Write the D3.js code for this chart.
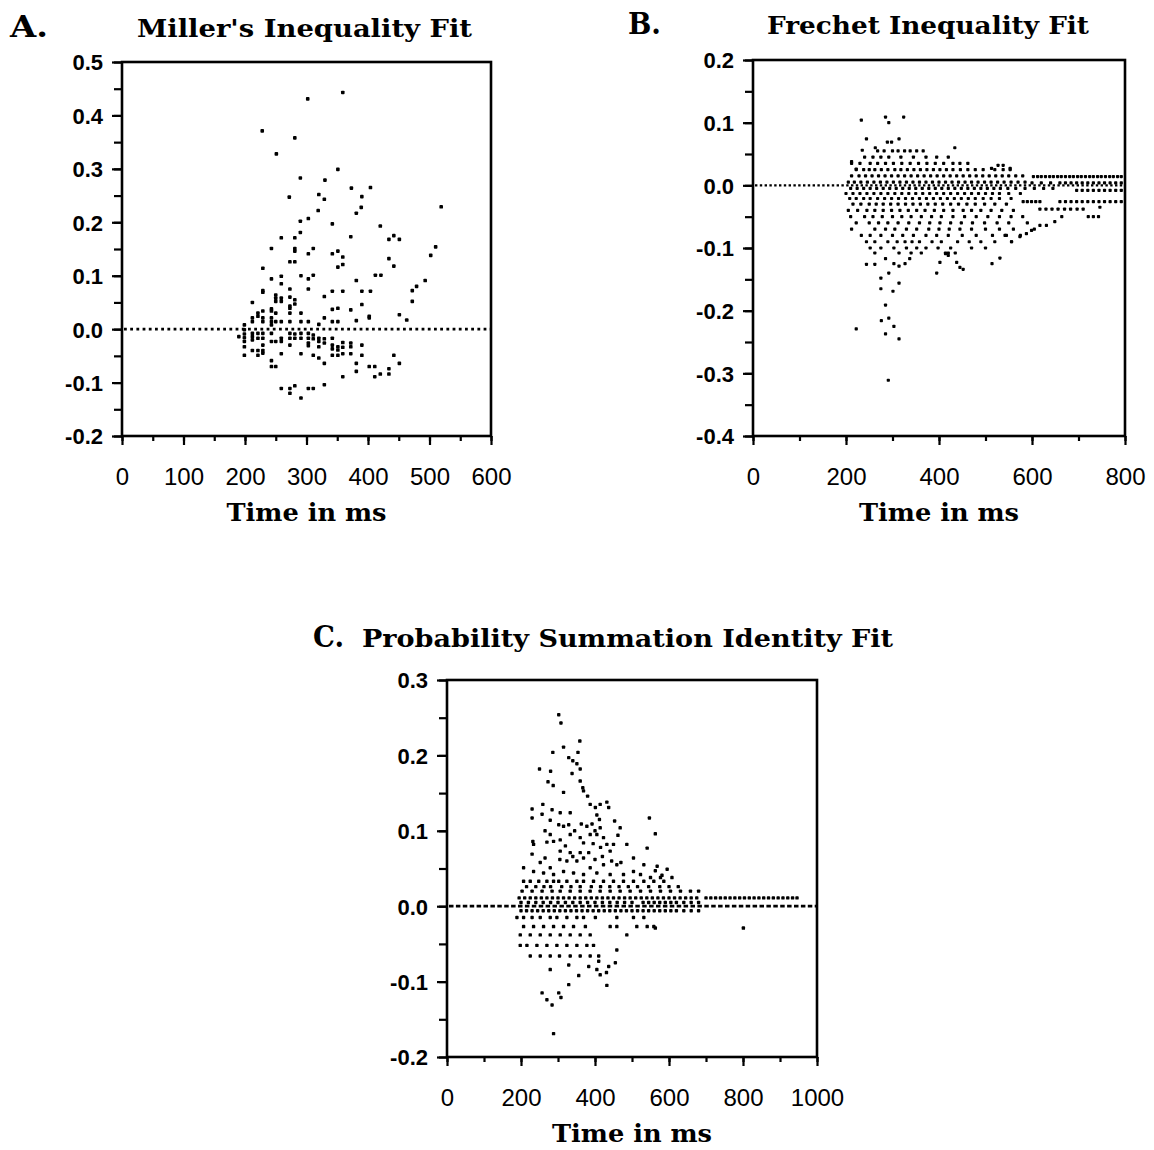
<!DOCTYPE html>
<html lang="en">
<head>
<meta charset="utf-8">
<title>Inequality fits</title>
<script src="https://cdn.jsdelivr.net/npm/d3@7"></script>
<style>
  body { margin: 0; background: #fff; }
</style>
</head>
<body>
<svg id="svg" width="1154" height="1150"></svg>
<script>

// ---- data: [time in ms, deviation] ----

// A. Miller's inequality
var millerPts = [
  [359,0.443],[302,0.431],[228,0.371],[281,0.358],[251,0.328],[351,0.299],[290,0.283],[330,0.279],[373,0.264],[404,0.265],
  [272,0.247],[320,0.252],[329,0.243],[390,0.248],[319,0.222],[389,0.228],[381,0.217],[519,0.229],[290,0.202],[303,0.207],
  [342,0.197],[420,0.193],[259,0.171],[281,0.171],[290,0.181],[372,0.173],[434,0.168],[442,0.175],[451,0.168],[243,0.151],
  [281,0.151],[281,0.146],[303,0.141],[311,0.151],[342,0.141],[351,0.146],[359,0.135],[510,0.154],[502,0.138],[273,0.126],
  [281,0.126],[351,0.116],[359,0.121],[434,0.132],[442,0.118],[229,0.114],[243,0.094],[259,0.099],[259,0.085],[291,0.1],
  [303,0.094],[311,0.101],[412,0.101],[421,0.101],[381,0.091],[493,0.091],[479,0.08],[472,0.072],[229,0.072],[229,0.069],
  [273,0.075],[303,0.075],[342,0.071],[329,0.061],[359,0.071],[390,0.071],[404,0.071],[390,0.046],[472,0.052],[212,0.05],
  [250,0.064],[250,0.058],[250,0.052],[259,0.058],[259,0.052],[273,0.06],[281,0.055],[281,0.047],[273,0.043],[273,0.039],
  [229,0.034],[243,0.038],[243,0.034],[221,0.03],[221,0.024],[212,0.021],[212,0.014],[229,0.021],[229,0.014],[243,0.021],
  [243,0.014],[243,0.008],[250,0.03],[250,0.014],[259,0.014],[273,0.03],[291,0.03],[273,0.014],[291,0.014],[303,0.014],
  [342,0.037],[351,0.039],[342,0.014],[351,0.014],[372,0.036],[381,0.016],[402,0.024],[402,0.021],[329,0.021],[320,0.009],
  [451,0.027],[463,0.017],[199,0.008],[199,-0.001],
  [190,-0.014],[199,-0.009],[199,-0.016],[212,-0.008],[212,-0.014],[212,-0.02],[221,-0.008],[221,-0.017],[229,-0.008],[229,-0.017],
  [229,-0.03],[243,-0.008],[243,-0.023],[250,-0.023],[259,-0.017],[259,-0.023],[273,-0.008],[273,-0.017],[273,-0.03],[281,-0.009],
  [281,-0.017],[291,-0.008],[291,-0.017],[303,-0.008],[303,-0.017],[303,-0.026],[303,-0.031],[311,-0.011],[311,-0.018],[320,-0.017],
  [320,-0.023],[320,-0.033],[329,-0.018],[329,-0.026],[342,-0.017],[342,-0.03],[342,-0.037],[351,-0.033],[351,-0.039],[359,-0.025],
  [359,-0.034],[372,-0.026],[372,-0.033],[390,-0.03],[199,-0.023],[199,-0.033],[212,-0.04],[221,-0.04],[229,-0.04],[199,-0.049],
  [221,-0.049],[229,-0.045],[259,-0.046],[291,-0.046],[311,-0.049],[320,-0.054],[329,-0.064],[342,-0.049],[351,-0.049],[359,-0.046],
  [372,-0.046],[390,-0.049],[381,-0.064],[442,-0.049],[451,-0.064],[243,-0.059],[243,-0.07],[250,-0.07],[381,-0.079],[402,-0.07],
  [411,-0.07],[411,-0.089],[420,-0.084],[434,-0.074],[434,-0.084],[359,-0.089],[259,-0.111],[273,-0.111],[281,-0.106],[273,-0.12],
  [291,-0.129],[303,-0.111],[311,-0.111],[329,-0.104]
];

// B. Frechet inequality: scattered points, then the dense rows as [value, times]
var frechetPts = [
  [233,0.104],[285,0.109],[292,0.1],[324,0.109],[244,0.074],[289,0.069],[298,0.069],[314,0.074],[235,0.056],[212,0.038],
  [263,0.06],[434,0.06],[222,0.026],
  [222,-0.229],[291,-0.311],[285,-0.237],[303,-0.225],[314,-0.245],[276,-0.216],[292,-0.212],[285,-0.191],[275,-0.165],
  [301,-0.169],[275,-0.148],[292,-0.14],[314,-0.156],[244,-0.126],[262,-0.126],[285,-0.117],[303,-0.125],[314,-0.129],
  [327,-0.125],[337,-0.117],[395,-0.14],[402,-0.123],[414,-0.109],[420,-0.112],[438,-0.123],[445,-0.131],[452,-0.134],
  [514,-0.125],[531,-0.116],
  [542,-0.08],[556,-0.09],[574,-0.082],[588,-0.077],[599,-0.072],[617,-0.064],[631,-0.064],[649,-0.058],[664,-0.05],
  [721,-0.05],[732,-0.05],[743,-0.05],[746,-0.035],[513,0.027],[527,0.032],[538,0.032],[553,0.027]
];
var frechetRows = [
  [0.055, [268,282,300,312,326,338,352,366]],
  [0.045, [240,258,275,292,318,345,372,395,420]],
  [0.035, [212,230,252,268,285,302,320,338,356,374,392,410,430,445,462]],
  [0.025, [222,238,250,262,276,290,305,318,332,346,360,374,388,402,416,430,446,462,478,495,520,538,553]],
  [0.015, [212,228,242,256,270,284,298,312,326,340,354,368,382,396,410,424,438,452,466,480,494,508,522,536,550,565,580]],
  [0.014, [603,612,620,629,638,646,655,663,672,681,689,698,706,715,724,732,741,749,758,767,775,784,792]],
  [0.005, [205,218,232,246,260,274,288,302,316,330,344,358,372,386,400,414,428,442,456,470,484,498,512,526,540,555,570,585]],
  [0.004, [600,620,640,660,672,684,696,708,720,732,744,756,768,780,792]],
  [-0.005, [210,224,238,252,266,280,294,308,322,336,350,364,378,392,406,420,434,448,462,476,490,504,518,532,548,565,585,605,625,645]],
  [-0.008, [696,708,720,732,744,756,768,780,792]],
  [-0.013, [200,215,230,245,260,275,290,305,320,335,350,365,380,395,410,425,440,455,470,485,500,515,530,550,575]],
  [-0.021, [208,222,238,252,268,283,298,313,328,343,358,373,388,403,418,433,448,463,478,495,512,530,555]],
  [-0.026, [581,590,599,608,617,660,672,684,696,708,720,732,744,756,768,780,792]],
  [-0.03, [215,232,250,265,280,296,312,328,344,360,376,392,408,425,442,460,478,498,520,545]],
  [-0.038, [617,630,643,656,670,683,697,710]],
  [-0.04, [205,225,245,262,280,298,316,334,352,370,390,410,430,452,470,490,512,535,560]],
  [-0.05, [210,240,258,278,300,320,340,362,384,405,430,455,480,505,530,555,580]],
  [-0.06, [222,250,270,290,312,335,358,380,402,425,448,472,498,525,550,590]],
  [-0.07, [212,262,285,305,330,352,378,400,422,445,470,500,530,560,605]],
  [-0.08, [233,252,275,300,322,345,372,395,420,450,480,515,545,575]],
  [-0.09, [244,262,290,310,327,342,358,385,405,440,465,490,520,556]],
  [-0.1, [252,275,303,330,352,372,398,425,470,500]],
  [-0.108, [262,314,340,362,414,420,435]]
];

// C. Probability summation identity
var summationPts = [
  [302,0.254],[308,0.243],[359,0.219],[315,0.211],[286,0.204],[354,0.204],[329,0.197],[340,0.193],[351,0.189],[360,0.182],
  [250,0.182],[280,0.179],[338,0.176],[273,0.165],[287,0.16],[315,0.151],[360,0.166],[367,0.157],[369,0.153],[380,0.146],
  [230,0.129],[259,0.135],[284,0.128],[306,0.124],[333,0.124],[230,0.117],[257,0.122],[279,0.114],[302,0.108],[315,0.106],
  [329,0.108],[387,0.135],[401,0.131],[414,0.135],[432,0.138],[437,0.131],[405,0.121],[412,0.115],[414,0.104],[363,0.109],
  [378,0.106],[392,0.109],[453,0.113],[468,0.104],[462,0.094],[486,0.082],[547,0.117],[563,0.096],[541,0.077],[232,0.086],
  [234,0.082],[230,0.069],[279,0.095],[288,0.086],[306,0.088],[333,0.095],[360,0.091],[369,0.084],[387,0.095],[405,0.095],
  [423,0.091],[432,0.082],[450,0.082],[441,0.073],[306,0.073],[333,0.071],[360,0.071],[383,0.071],[305,0.062],[324,0.06],
  [351,0.06],[369,0.064],[207,0.051],[252,0.058],[279,0.051],[234,0.046],[261,0.044],[288,0.042],
  [387,0.051],[423,0.055],[459,0.055],[504,0.064],[532,0.055],[568,0.053],[595,0.049],[563,0.047],[577,0.038],
  [315,0.046],[342,0.044],[369,0.042],[405,0.044],[441,0.042],[477,0.042],[504,0.046],[523,0.042],[550,0.038],[581,0.041],
  [608,0.038],[265,0.1],[345,0.1],[400,0.1],[270,0.085],[320,0.08],[395,0.083],[415,0.078],[265,0.064],[340,0.066],
  [400,0.062],[420,0.066],[445,0.06],[470,0.058],
  [288,-0.169],[257,-0.115],[270,-0.124],[284,-0.131],[302,-0.115],[308,-0.121],[329,-0.104],[432,-0.105],[279,-0.084],
  [329,-0.078],[356,-0.092],[383,-0.08],[405,-0.084],[414,-0.091],[431,-0.088],[410,-0.073],[437,-0.08],[459,-0.058],
  [455,-0.075],[801,-0.029],[563,-0.029]
];
var summationRows = [
  [0.033, [207,225,248,270,288,302,324,351,369,396,423,450,477,504,532,559,586]],
  [0.026, [215,240,262,280,310,335,360,390,415,440,465,490,515,545,575,600,625]],
  [0.02, [203,230,257,284,306,333,360,387,414,441,468,495,523,550,577,604,631,658,680]],
  [0.011, [195,210,225,240,255,270,285,300,315,330,345,360,375,390,405,420,435,450,465,480,495,510,525,540,555,570,585,600,615,
           630,645,660,675,700,713,726,739,752,765,778,791,804,817,830,843,856,869,882,895,908,921,934,946]],
  [0.005, [200,220,240,260,280,300,320,340,360,380,400,420,440,460,480,500,530,545,560,575,590,605,620,640,660,680]],
  [-0.006, [200,215,230,245,260,275,290,305,320,335,350,365,380,395,410,425,440,455,470,485,500,515,530,545,560,575,590,605,
            620,640,660,680]],
  [-0.015, [189,207,230,252,279,297,324,351,369,401,459,504,532]],
  [-0.027, [207,234,261,288,315,342,374,441,459,513,541,559]],
  [-0.038, [198,225,252,279,306,333,360,387,486]],
  [-0.052, [198,216,243,270,297,324,351,378,396]],
  [-0.066, [225,252,279,304,333,360,387,410]]
];

// ---- drawing ----

var svg = d3.select('#svg');
var serif = '"DejaVu Serif", serif';
var sans = '"Liberation Sans", Arial, sans-serif';

function fmt1(v) { if (Math.abs(v) < 1e-9) v = 0; return v.toFixed(1); }

function expand(pts, rows) {
  var out = pts.slice();
  rows.forEach(function(r) { r[1].forEach(function(t) { out.push([t, r[0]]); }); });
  return out;
}

function drawPanel(p) {
  var g = svg.append('g');
  var x = d3.scaleLinear().domain(p.xd).range([p.left, p.right]);
  var y = d3.scaleLinear().domain(p.yd).range([p.bottom, p.top]);

  // zero reference row
  g.append('line')
    .attr('x1', x(p.xd[0]) + 2).attr('x2', x(p.xd[1]))
    .attr('y1', y(0)).attr('y2', y(0))
    .attr('stroke', '#000').attr('stroke-width', p.zeroW)
    .attr('stroke-dasharray', p.zeroDash);

  var s = p.dot;
  g.selectAll('rect.pt')
    .data(p.data)
    .join('rect')
    .attr('class', 'pt')
    .attr('x', function(d) { return x(d[0]) - s / 2; })
    .attr('y', function(d) { return y(d[1]) - s / 2; })
    .attr('width', s).attr('height', s)
    .attr('rx', s / 4)
    .attr('fill', '#000');

  // minor + major ticks
  var xMinor = g.append('g').attr('transform', 'translate(0,' + p.bottom + ')')
    .call(d3.axisBottom(x).tickValues(x.ticks(p.xMinorN)).tickSize(5).tickFormat(''));
  var xMajor = g.append('g').attr('transform', 'translate(0,' + p.bottom + ')')
    .call(d3.axisBottom(x).tickValues(x.ticks(p.xMajorN)).tickSize(9).tickFormat(d3.format('d')));
  var yMinor = g.append('g').attr('transform', 'translate(' + p.left + ',0)')
    .call(d3.axisLeft(y).tickValues(y.ticks(p.yMinorN)).tickSize(8).tickFormat(''));
  var yMajor = g.append('g').attr('transform', 'translate(' + p.left + ',0)')
    .call(d3.axisLeft(y).tickValues(y.ticks(p.yMajorN)).tickSize(10).tickFormat(fmt1));

  [xMinor, xMajor, yMinor, yMajor].forEach(function(a) {
    a.select('.domain').remove();
    a.selectAll('line').attr('stroke', '#000').attr('stroke-width', 2.2);
  });
  xMajor.selectAll('text')
    .attr('font-family', sans).attr('font-size', 24).attr('fill', '#000')
    .attr('y', 49).attr('dy', null);
  yMajor.selectAll('text')
    .attr('font-family', sans).attr('font-size', 22).attr('font-weight', 'bold').attr('fill', '#000')
    .attr('x', -19).attr('dy', '0.36em');

  // frame
  g.append('rect')
    .attr('x', p.left).attr('y', p.top)
    .attr('width', p.right - p.left).attr('height', p.bottom - p.top)
    .attr('fill', 'none').attr('stroke', '#000').attr('stroke-width', 2.6);

  // texts
  g.append('text').text(p.letter)
    .attr('x', p.letterX).attr('y', p.titleY)
    .attr('font-family', serif).attr('font-weight', 'bold').attr('font-size', 30)
    .attr('textLength', p.letterW).attr('lengthAdjust', 'spacingAndGlyphs');
  g.append('text').text(p.title)
    .attr('x', p.titleX).attr('y', p.titleY)
    .attr('font-family', serif).attr('font-weight', 'bold').attr('font-size', 25)
    .attr('textLength', p.titleW).attr('lengthAdjust', 'spacingAndGlyphs');
  g.append('text').text('Time in ms')
    .attr('x', (p.left + p.right) / 2 - 80).attr('y', p.bottom + 85)
    .attr('font-family', serif).attr('font-weight', 'bold').attr('font-size', 25)
    .attr('textLength', 160).attr('lengthAdjust', 'spacingAndGlyphs');
}

drawPanel({
  letter: 'A.', letterX: 10, letterW: 38,
  title: "Miller's Inequality Fit", titleX: 137, titleW: 335, titleY: 37,
  left: 122, right: 491, top: 62, bottom: 436,
  xd: [0, 600], yd: [-0.2, 0.5],
  xMinorN: 12, xMajorN: 6, yMinorN: 14, yMajorN: 7,
  data: millerPts, dot: 3.6,
  zeroW: 2.8, zeroDash: '2.8 3.4'
});

drawPanel({
  letter: 'B.', letterX: 628, letterW: 33,
  title: 'Frechet Inequality Fit', titleX: 767, titleW: 322, titleY: 34,
  left: 753, right: 1125, top: 60, bottom: 436,
  xd: [0, 800], yd: [-0.4, 0.2],
  xMinorN: 8, xMajorN: 4, yMinorN: 12, yMajorN: 6,
  data: expand(frechetPts, frechetRows), dot: 3.2,
  zeroW: 2.4, zeroDash: '2.4 2.4'
});

drawPanel({
  letter: 'C.', letterX: 313, letterW: 31,
  title: 'Probability Summation Identity Fit', titleX: 362, titleW: 531, titleY: 647,
  left: 447, right: 817, top: 680, bottom: 1057,
  xd: [0, 1000], yd: [-0.2, 0.3],
  xMinorN: 10, xMajorN: 5, yMinorN: 10, yMajorN: 5,
  data: expand(summationPts, summationRows), dot: 3.4,
  zeroW: 2.8, zeroDash: '4.5 2.4'
});

</script>
</body>
</html>
